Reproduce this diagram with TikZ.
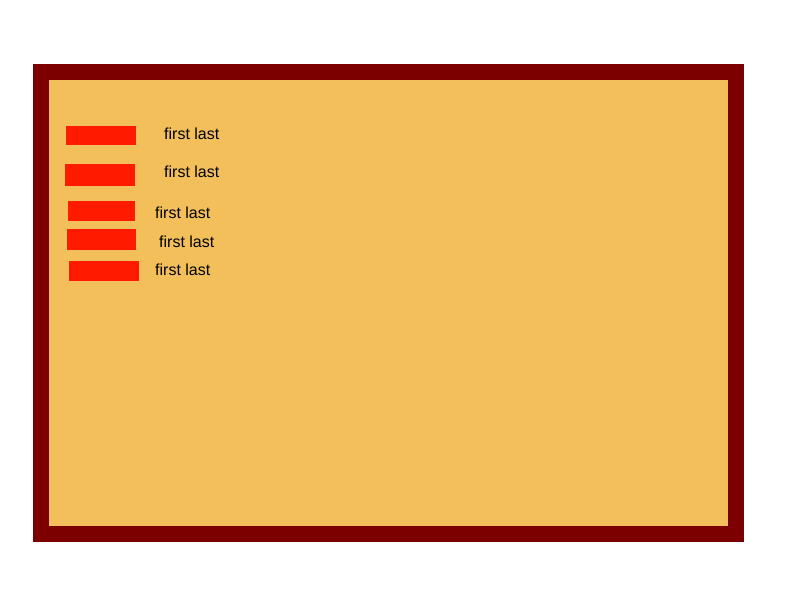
\documentclass[tikz,border=0pt]{standalone}
\usepackage{fontspec}
\setmainfont{Liberation Sans}
\definecolor{frame}{RGB}{125,0,0}
\definecolor{board}{RGB}{243,191,91}
\definecolor{bar}{RGB}{255,26,0}
\begin{document}
\begin{tikzpicture}[x=1pt,y=-1pt,
  barbox/.style={fill=bar,draw=none},
  lbl/.style={anchor=base west,inner sep=0pt,font=\fontsize{16}{19}\selectfont,text=black}]
\useasboundingbox (0,0) rectangle (800,600);
\fill[white] (0,0) rectangle (800,600);
\fill[frame] (33,64) rectangle (744,542);
\fill[board] (49,80) rectangle (728,526);
\path[barbox] (66,126) rectangle (136,145) coordinate (b1);
\path[barbox] (65,164) rectangle (135,186) coordinate (b2);
\path[barbox] (68,201) rectangle (135,221) coordinate (b3);
\path[barbox] (67,229) rectangle (136,250) coordinate (b4);
\path[barbox] (69,261) rectangle (139,281) coordinate (b5);
\node[lbl] (t1) at (164,139) {first last};
\node[lbl] (t2) at (164,177) {first last};
\node[lbl] (t3) at (155,218) {first last};
\node[lbl] (t4) at (159,247) {first last};
\node[lbl] (t5) at (155,275) {first last};
\end{tikzpicture}
\end{document}
